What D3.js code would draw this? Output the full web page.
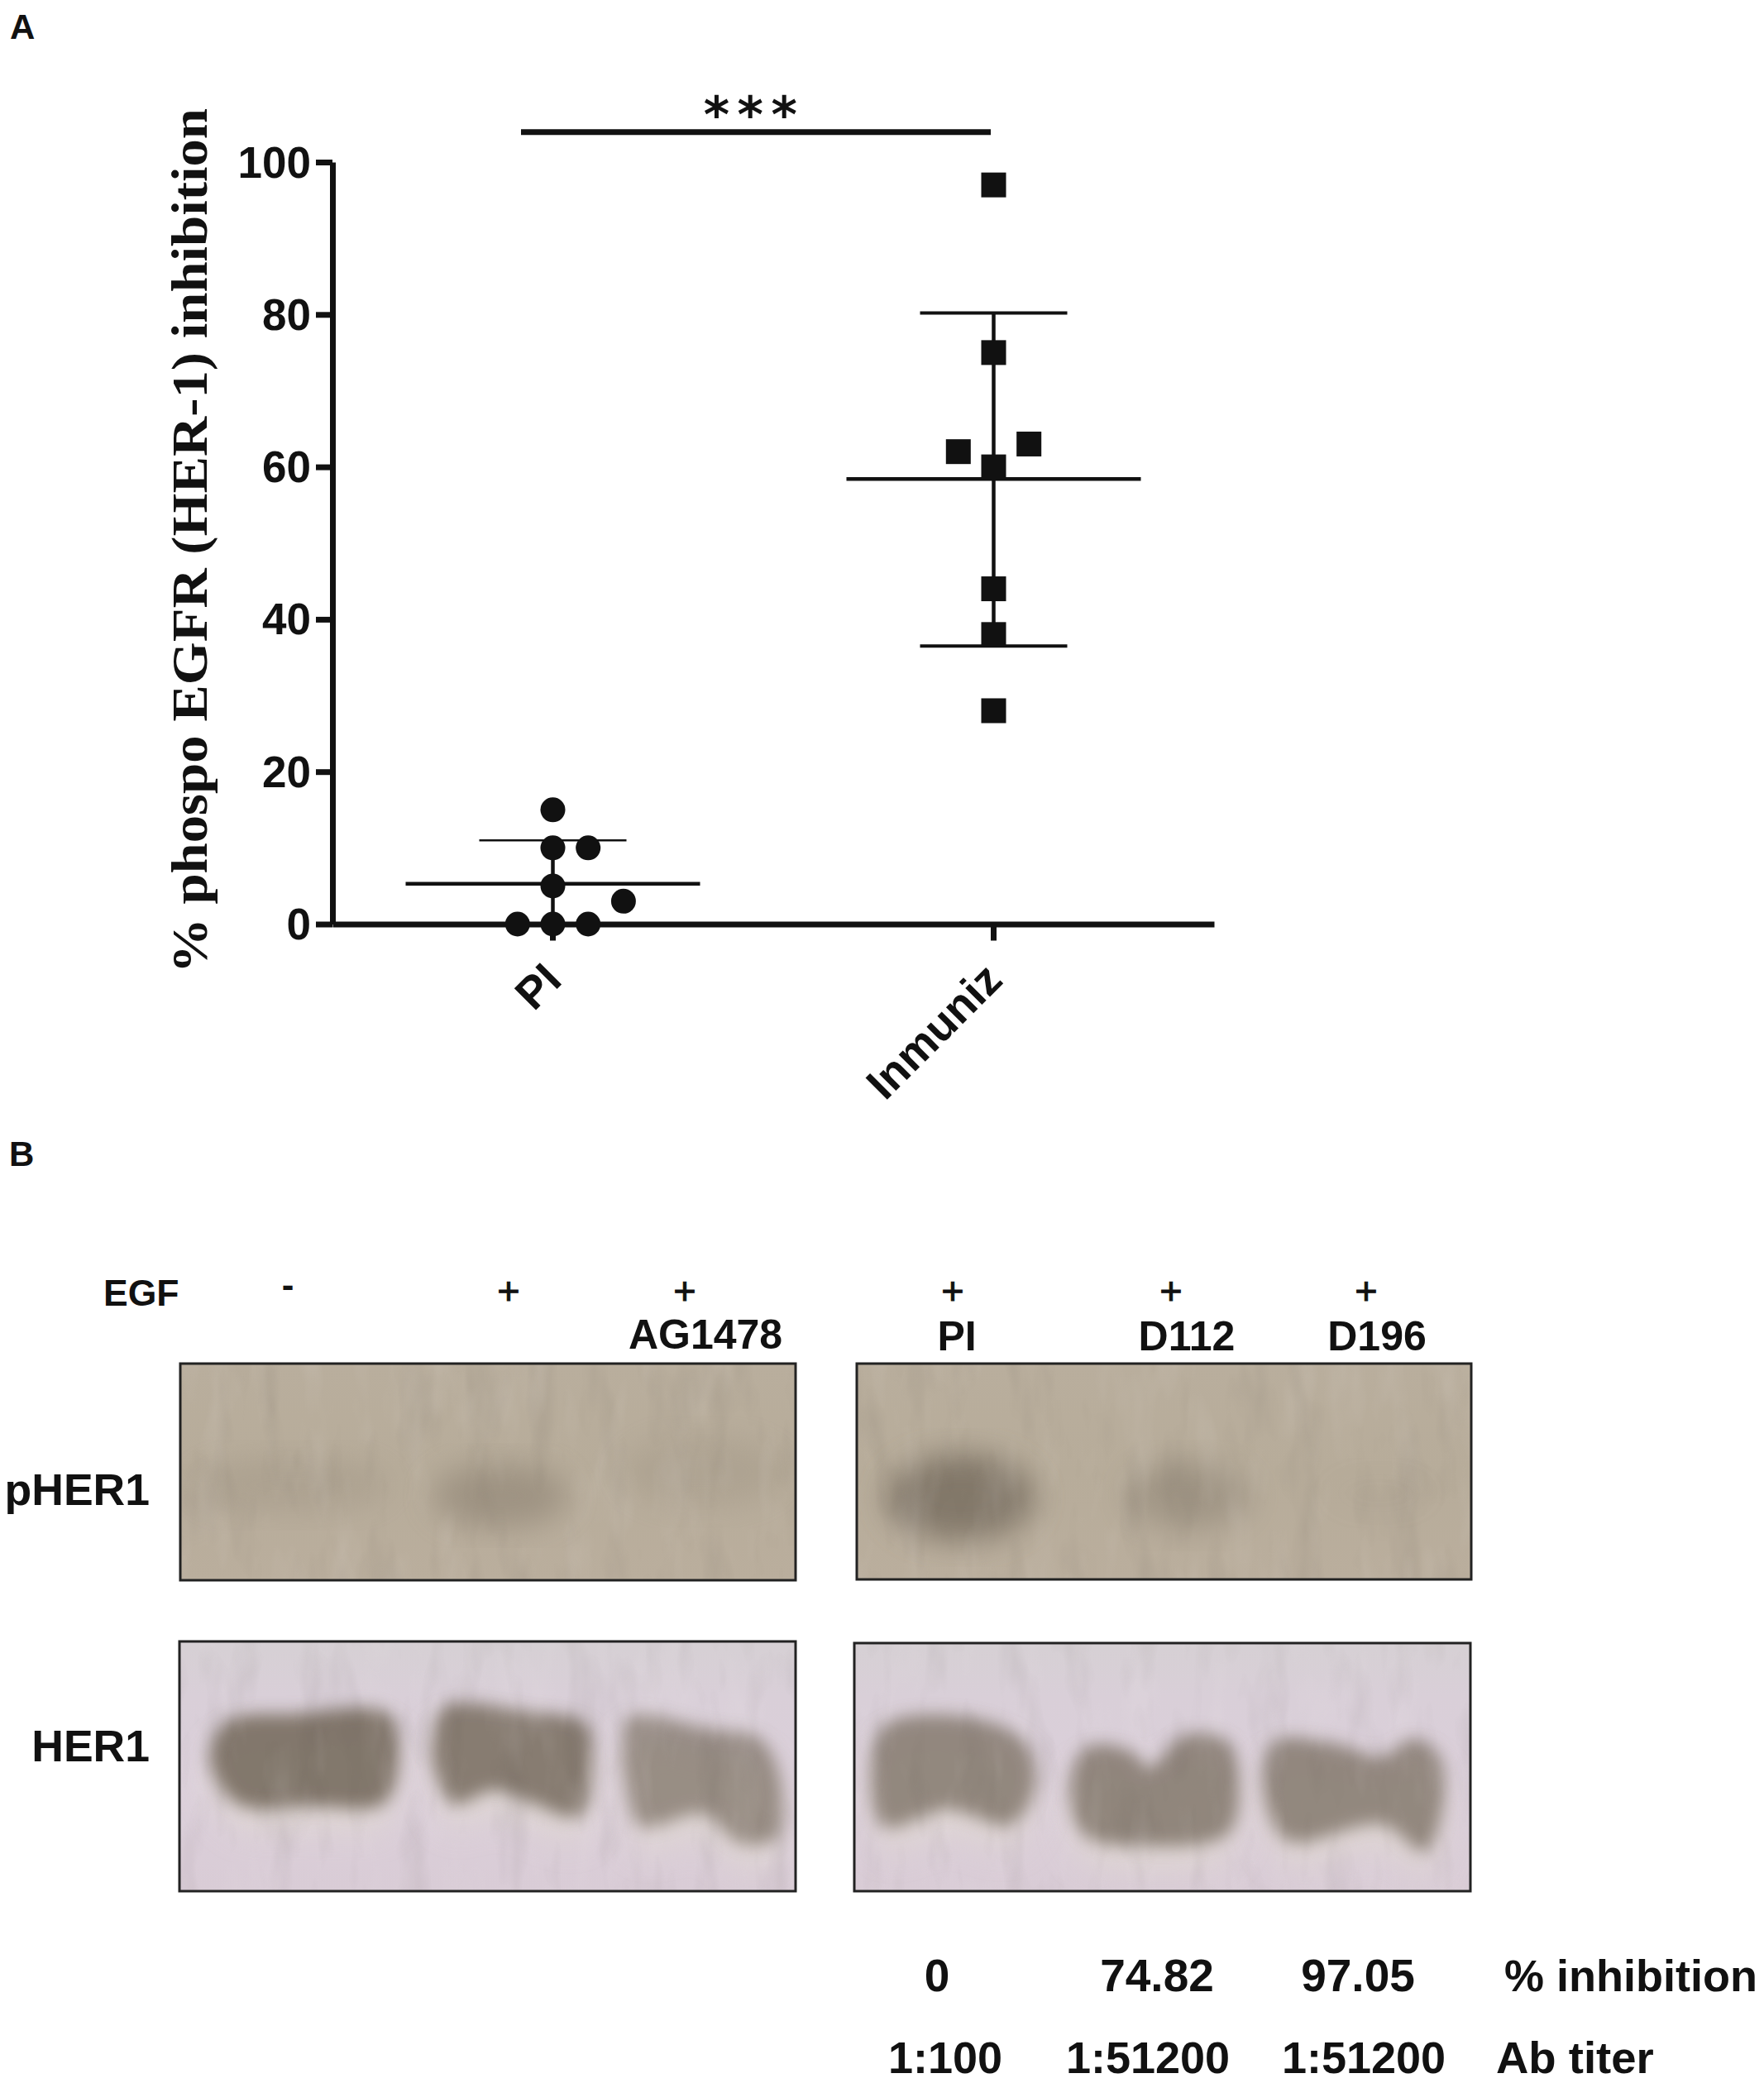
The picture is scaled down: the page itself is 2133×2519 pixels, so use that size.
<!DOCTYPE html>
<html><head><meta charset="utf-8">
<script src="https://cdn.jsdelivr.net/npm/d3@7"></script>
<style>
html,body{margin:0;padding:0;background:#fff}
svg{display:block}
text{font-family:"Liberation Sans",Arial,sans-serif;font-weight:700;fill:#111}
</style></head><body>
<svg id="c" width="2133" height="2519" viewBox="0 0 2133 2519"></svg>
<script>
// ---- Panel A data
const groups = ["PI", "Inmuniz"];
const yTicks = [0, 20, 40, 60, 80, 100];
const piValues = [15, 10, 10, 5, 3, 0, 0, 0];
const piSlots = [0, 0, 1, 0, 2, 0, -1, 1];
const inmunizValues = [97, 75, 63, 62, 60, 44, 38, 28];
const inmunizSlots = [0, 0, 1, -1, 0, 0, 0, 0];
const means = [5.3, 58.4];
const sdUpper = [11, 80.2];
const sdLower = [0, 36.5];
const yTitle = "% phospo EGFR (HER-1) inhibition";
const signif = "***";
// ---- Panel B data
const inhibition = ["0", "74.82", "97.05"];
const abTiter = ["1:100", "1:51200", "1:51200"];
const treatmentLeft = ["", "", "AG1478"];
const treatmentRight = ["PI", "D112", "D196"];
// blot blobs: lane x%, band y%, half-width %, half-height %, darkness
const pHerLeftBlobs = [[18,56,16,13,.22],[52,61,11,15,.55],[85,50,13,16,.2]];
const pHerRightBlobs = [[17,62,12,20,.92],[54,61,10,16,.4],[85,60,9,10,.03]];
// band outlines in % of panel
const herLeftBands = [
 {d:.97,p:[[5,47],[7.7,32],[19,29],[34,29],[35.5,49],[33,65],[22,66],[9.5,65]]},
 {d:.92,p:[[41,40],[43,26],[56.5,28],[66,33],[67,49],[65,70],[56.5,64],[51,59.5],[44.5,65],[41.5,52]]},
 {d:.74,p:[[72,43.5],[73,30],[86,35],[94,38.5],[97.5,55],[96.7,79],[91,80.6],[85,69],[75,74],[72.8,59]]}];
const herRightBands = [
 {d:.8,p:[[2.7,54],[5,33],[18.7,30],[27.5,39.5],[29.4,56],[25.5,73],[15,67],[5,74]]},
 {d:.82,p:[[35,56],[38,41.5],[45,43.7],[48,50],[53.7,37],[60.5,39.5],[62.4,56],[60.5,77],[46,81.6],[37.2,77]]},
 {d:.8,p:[[66.3,56],[68.2,39.5],[78,40.5],[85.7,45.8],[90.6,38.4],[95,45.8],[95.4,67],[92.5,84],[85.7,73],[70.2,79.5]]}];

const svg = d3.select("#c");
const defs = svg.append("defs");
const y = d3.scaleLinear().domain([0,100]).range([1117.5,196]);
const x = d3.scaleBand().domain(groups).range([402,1468]).padding(0);
const slot = d3.scaleLinear().domain([-1,1]).range([-42.7,42.7]);

// Axes
const gy = svg.append("g").attr("transform","translate(402,0)")
  .call(d3.axisLeft(y).tickValues(yTicks).tickSize(20).tickSizeOuter(0).tickPadding(6));
const gx = svg.append("g").attr("transform","translate(0,1117.5)")
  .call(d3.axisBottom(x).tickSize(20).tickSizeOuter(0).tickFormat(""));
[gy,gx].forEach(g=>{g.selectAll("path.domain").attr("stroke","#111").attr("stroke-width",7);
  g.selectAll("line").attr("stroke","#111").attr("stroke-width",7);});
gy.selectAll("text").attr("font-size",53).attr("fill","#111").style("font-family",'"Liberation Sans"').style("font-weight",700).attr("dy","0.34em");

// Category labels
svg.selectAll(".cat").data(groups).join("text").attr("class","cat")
  .attr("text-anchor","end").attr("font-size",54)
  .attr("transform",d=>`translate(${x(d)+x.bandwidth()/2+13},${1188}) rotate(-45)`)
  .text(d=>d);

// y title
svg.append("text").attr("transform","translate(250,654) rotate(-90)")
  .attr("text-anchor","middle").style("font-family",'"Liberation Serif",serif').attr("font-size",61)
  .attr("textLength",1046).attr("lengthAdjust","spacingAndGlyphs").text(yTitle);

// Error bars
const cx = i=>x(groups[i])+x.bandwidth()/2;
groups.forEach((g,i)=>{
  const c = cx(i);
  const m = svg.append("g").attr("stroke","#111").attr("fill","none");
  m.append("line").attr("x1",c).attr("x2",c).attr("y1",y(sdUpper[i])).attr("y2",y(sdLower[i])).attr("stroke-width",4.5);
  m.append("line").attr("x1",c-178).attr("x2",c+178).attr("y1",y(means[i])).attr("y2",y(means[i])).attr("stroke-width",4.5);
  m.append("line").attr("x1",c-89).attr("x2",c+89).attr("y1",y(sdUpper[i])).attr("y2",y(sdUpper[i])).attr("stroke-width",i?4:2.5);
  if(i) m.append("line").attr("x1",c-89).attr("x2",c+89).attr("y1",y(sdLower[i])).attr("y2",y(sdLower[i])).attr("stroke-width",4);
});

// Points
svg.selectAll(".pi").data(piValues).join("circle").attr("class","pi")
  .attr("cx",(d,i)=>cx(0)+slot(piSlots[i])).attr("cy",d=>y(d)).attr("r",15).attr("fill","#111");
svg.selectAll(".imm").data(inmunizValues).join("rect").attr("class","imm")
  .attr("x",(d,i)=>cx(1)+slot(inmunizSlots[i])-15).attr("y",d=>y(d)-15).attr("width",30).attr("height",30).attr("fill","#111");

// significance
svg.append("line").attr("x1",630).attr("x2",1198).attr("y1",159.7).attr("y2",159.7).attr("stroke","#111").attr("stroke-width",7);
svg.append("text").attr("x",912).attr("y",160).attr("text-anchor","middle").attr("font-size",60).attr("letter-spacing",9.5)
  .style("font-family",'"DejaVu Sans"').text(signif);

// Panel letters
svg.append("text").attr("x",12).attr("y",47).attr("font-size",42).text("A");
svg.append("text").attr("x",11).attr("y",1410).attr("font-size",42).text("B");

// Blot panels
const blur = (id,s)=>defs.append("filter").attr("id",id).attr("x","-30%").attr("y","-30%").attr("width","160%").attr("height","160%")
   .append("feGaussianBlur").attr("stdDeviation",s);
blur("b9",10); blur("b18",18); blur("b14",20);
function noise(id,seed,sign){
  const f=defs.append("filter").attr("id",id).attr("x",0).attr("y",0).attr("width","100%").attr("height","100%").attr("color-interpolation-filters","sRGB");
  f.append("feTurbulence").attr("type","fractalNoise").attr("baseFrequency","0.025 0.008").attr("numOctaves",3).attr("seed",seed);
  const k=sign*2.2;
  f.append("feColorMatrix").attr("type","matrix").attr("values",`0 0 0 0 ${sign>0?0.25:0.95}  0 0 0 0 ${sign>0?0.22:0.93}  0 0 0 0 ${sign>0?0.2:0.93}  ${k} 0 0 0 ${-k/2}`);
}
noise("nDark",3,1); noise("nLight",8,-1);
function grad(id,stops){const g=defs.append("linearGradient").attr("id",id).attr("x1",0).attr("x2",0).attr("y1",0).attr("y2",1);
  stops.forEach(s=>g.append("stop").attr("offset",s[0]).attr("stop-color",s[1]));}
grad("bgP",[[0,"#b9ae9d"],[.5,"#b7ac9a"],[1,"#baae9d"]]);
grad("bgH",[[0,"#d6d0d4"],[.22,"#d9cfd8"],[.6,"#dbcfda"],[1,"#d9ccd6"]]);
let pid=0;
function panel(x0,x1,y0,y1,bg){
  const id="cl"+(pid++);
  defs.append("clipPath").attr("id",id).append("rect").attr("x",x0).attr("y",y0).attr("width",x1-x0).attr("height",y1-y0);
  const g=svg.append("g").attr("clip-path",`url(#${id})`);
  g.append("rect").attr("x",x0).attr("y",y0).attr("width",x1-x0).attr("height",y1-y0).attr("fill",bg);
  return {g,px:d3.scaleLinear().domain([0,100]).range([x0,x1]),py:d3.scaleLinear().domain([0,100]).range([y0,y1]),
    border(){
      g.append("rect").attr("x",x0).attr("y",y0).attr("width",x1-x0).attr("height",y1-y0).attr("filter","url(#nDark)").attr("opacity",.09);
      g.append("rect").attr("x",x0).attr("y",y0).attr("width",x1-x0).attr("height",y1-y0).attr("filter","url(#nLight)").attr("opacity",.12);
      svg.append("rect").attr("x",x0).attr("y",y0).attr("width",x1-x0).attr("height",y1-y0).attr("fill","none").attr("stroke","#222").attr("stroke-width",3);}};
}
function blobs(P,data,col){
  P.g.selectAll(".bl").data(data).join("ellipse").attr("cx",d=>P.px(d[0])).attr("cy",d=>P.py(d[1]))
    .attr("rx",d=>P.px(d[2])-P.px(0)).attr("ry",d=>P.py(d[3])-P.py(0)).attr("fill",col).attr("opacity",d=>d[4]).attr("filter","url(#b18)");
}
function bands(P,data){
  const line=d3.line().x(d=>P.px(d[0])).y(d=>P.py(d[1])).curve(d3.curveCatmullRomClosed.alpha(.5));
  // pale halo under the band
  P.g.selectAll(".halo").data(data).join("path").attr("d",d=>line(d.p.map(q=>[q[0],q[1]+9])))
    .attr("fill","#e2dccf").attr("opacity",.55).attr("filter","url(#b14)");
  P.g.selectAll(".band").data(data).join("path").attr("d",d=>line(d.p))
    .attr("fill","#807569").attr("opacity",d=>d.d).attr("filter","url(#b9)");
}
const p1=panel(218,962,1649,1911,"url(#bgP)"); blobs(p1,pHerLeftBlobs,"#8a7f70"); p1.border();
const p2=panel(1036,1779,1649,1910,"url(#bgP)"); blobs(p2,pHerRightBlobs,"#7f7566"); p2.border();
const p3=panel(217,962,1985,2287,"url(#bgH)"); bands(p3,herLeftBands); p3.border();
const p4=panel(1033,1778,1987,2287,"url(#bgH)"); bands(p4,herRightBands); p4.border();

// Panel B labels
function T(s,xx,yy,fs,anchor,w){const t=svg.append("text").attr("x",xx).attr("y",yy).attr("font-size",fs).attr("text-anchor",anchor||"middle").text(s);
  if(w) t.style("font-weight",w); return t;}
T("EGF",125,1579,44.5,"start");
T("-",348,1569,44);
[615,828,1152,1416,1652].forEach(px=>T("+",px,1577,47,"middle",400).attr("stroke","#111").attr("stroke-width",1));
T(treatmentLeft[2],853,1631,50);
[1157,1435,1665].forEach((px,i)=>T(treatmentRight[i],px,1633,50));
T("pHER1",181,1820,53.5,"end");
T("HER1",181,2130,53.5,"end");
[1133,1399,1642].forEach((px,i)=>T(inhibition[i],px,2408,55));
T("% inhibition",1819,2408,54,"start");
[1143,1388,1649].forEach((px,i)=>T(abTiter[i],px,2507,54));
T("Ab titer",1809,2507,54.5,"start");
</script>
</body></html>
